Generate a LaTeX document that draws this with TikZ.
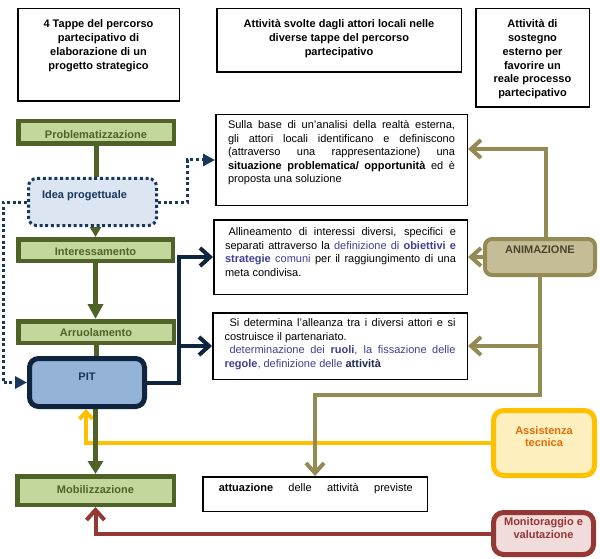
\documentclass[tikz,border=0pt]{standalone}
\usepackage{fontspec}
\setmainfont{Liberation Sans}
\usetikzlibrary{arrows.meta,backgrounds}
\definecolor{gfill}{HTML}{C3D69B}
\definecolor{gdark}{HTML}{4F6228}
\definecolor{ifill}{HTML}{DCE6F2}
\definecolor{navy}{HTML}{17375E}
\definecolor{navyd}{HTML}{0F243E}
\definecolor{pitfill}{HTML}{95B3D7}
\definecolor{anfill}{HTML}{C4BD97}
\definecolor{andark}{HTML}{948A54}
\definecolor{antext}{HTML}{4A452A}
\definecolor{asfill}{HTML}{FEF0BE}
\definecolor{asline}{HTML}{FFC000}
\definecolor{astext}{HTML}{E46C0A}
\definecolor{mofill}{HTML}{F2DCDB}
\definecolor{moline}{HTML}{953735}
\definecolor{purp}{HTML}{3F3F96}
\definecolor{purpd}{HTML}{1F2A50}
\newcommand\tbx[9]{%
  \node[#1,inner sep=0pt,minimum width={(#5-#3)*1pt},minimum height={(#6-#4)*1pt}] (#2) at ({(#3+#5)/2},{(#4+#6)/2})
  {\parbox[c][\dimexpr#6pt-#4pt\relax][t]{\dimexpr#5pt-#3pt-#7pt-#7pt\relax}{\vspace*{#8pt}#9}};}
\tikzset{
  chev/.tip={Straight Barb[length=10pt,width=18pt]},
  chevs/.tip={Straight Barb[length=7pt,width=13pt]},
  hdr/.style={draw=black,line width=1.5pt,font=\fontsize{11}{13.8}\selectfont\bfseries},
  txt/.style={draw=black,line width=1.5pt,fill=white,font=\fontsize{11}{13.4}\selectfont},
  gbox/.style={draw=gdark,fill=gfill,line width=4.5pt,text=gdark,font=\fontsize{11}{13.4}\selectfont\bfseries},
  ideabox/.style={draw=navy,fill=ifill,line width=3pt,dash pattern=on 3pt off 2.7pt,rounded corners=8pt,text=navy,font=\fontsize{11}{13.4}\selectfont\bfseries},
  pitbox/.style={draw=navyd,fill=pitfill,line width=5pt,rounded corners=9pt,text=navy,font=\fontsize{11}{13.4}\selectfont\bfseries},
  anbox/.style={draw=andark,fill=anfill,line width=4pt,rounded corners=7pt,text=antext,font=\fontsize{11}{13.4}\selectfont\bfseries},
  asbox/.style={draw=asline,fill=asfill,line width=5pt,rounded corners=10pt,text=astext,font=\fontsize{11}{12.3}\selectfont\bfseries},
  mobox/.style={draw=moline,fill=mofill,line width=5pt,rounded corners=10pt,text=moline,font=\fontsize{11}{12.3}\selectfont\bfseries},
  gline/.style={draw=gdark,line width=5pt},
  nline/.style={draw=navyd,line width=4pt},
  oline/.style={draw=andark,line width=4pt},
  yline/.style={draw=asline,line width=4pt},
  rline/.style={draw=moline,line width=4pt},
  dline/.style={draw=navy,line width=3pt,dash pattern=on 3pt off 2.7pt},
}
\begin{document}
\begin{tikzpicture}[x=1pt,y=-1pt]
\useasboundingbox (0,0) rectangle (600,559);
% headers
\tbx{hdr}{h1}{17.75}{8.75}{179.25}{101.25}{4}{9.25}{\centering\strut 4 Tappe del percorso\\ partecipativo di\\ elaborazione di un\\ progetto strategico}
\tbx{hdr}{h2}{216.75}{8.75}{461.25}{72.25}{4}{9.25}{\centering\strut Attività svolte dagli attori locali nelle\\ diverse tappe del percorso\\ partecipativo}
\tbx{hdr}{h3}{475.75}{8.75}{589.25}{107.25}{4}{9.25}{\centering\strut Attività di\\ sostegno\\ esterno per\\ favorire un\\ reale processo\\ partecipativo}
% left column
\tbx{gbox}{prob}{18.25}{121.25}{173.75}{143.75}{4}{8.25}{\centering\strut Problematizzazione}
\tbx{ideabox}{idea}{28.5}{178.5}{156.5}{225.5}{13.5}{11}{\raggedright\strut Idea progettuale}
\tbx{gbox}{inter}{18.25}{239.25}{172.75}{260.75}{4}{7.25}{\centering\strut Interessamento}
\tbx{gbox}{arr}{18.25}{321.25}{173.75}{342.75}{4}{6.25}{\centering\strut Arruolamento}
\tbx{pitbox}{pit}{29.5}{358.5}{144.5}{406.5}{4}{13}{\centering\strut PIT}
\tbx{gbox}{mob}{17.25}{476.25}{173.75}{504.75}{4}{8.25}{\centering\strut Mobilizzazione}
% middle column
\tbx{txt}{boxA}{215.75}{114.75}{467.25}{205.25}{12.25}{4.75}{\strut Sulla base di un'analisi della realtà esterna,\linebreak gli attori locali identificano e definiscono\linebreak (attraverso una rappresentazione) una\linebreak \textbf{situazione problematica/ opportunità} ed è\linebreak proposta una soluzione}
\tbx{txt}{boxB}{213.75}{219.75}{467.25}{294.25}{11.25}{6.75}{\strut\hspace*{3.5pt}Allineamento di interessi diversi, specifici e\linebreak separati attraverso la {\color{purp}definizione di \textbf{obiettivi e}}\linebreak {\color{purp}\textbf{strategie} comuni} per il raggiungimento di una\linebreak meta condivisa.}
\tbx{txt}{boxC}{212.75}{312.75}{467.25}{379.25}{11.75}{4.75}{\strut\hspace*{5pt}Si determina l'alleanza tra i diversi attori e si\linebreak costruisce il partenariato.\par\strut\hspace*{5pt}{\color{purp}determinazione dei \textbf{ruoli}, la fissazione delle}\linebreak {\color{purp}\textbf{regole}, definizione delle} {\color{purpd}\textbf{attività}}}
\tbx{txt}{boxD}{202.75}{476.75}{427.25}{511.25}{14}{5.75}{\noindent\strut\hspace*{2pt}\makebox[194pt][s]{\textbf{attuazione} delle attività previste}}
% right column
\tbx{anbox}{anim}{485}{239}{595}{275}{4}{5.5}{\centering\strut ANIMAZIONE}
\tbx{asbox}{assist}{493.5}{410.5}{594.5}{475.5}{4}{15.1}{\centering\strut Assistenza\\ tecnica}
\tbx{mobox}{monit}{493.5}{512.5}{593.5}{554.5}{4}{4.8}{\centering\strut Monitoraggio e\\ valutazione}
% connectors
\begin{pgfonlayer}{background}
\draw[yline,-{chevs}] (assist.west) -| ([xshift=-1pt]pit.south);
\draw[rline,-{chev}] (monit.west) -| (mob.south);
\draw[gline] (prob.south) -- (prob.south |- idea.north);
\draw[gline,-{Triangle[length=10pt,width=11pt]}] (idea.south -| inter.north) -- (inter.north);
\draw[gline,-{Triangle[length=15pt,width=15pt]}] (inter.south) -- (inter.south |- arr.north);
\draw[gline] (arr.south) -- (arr.south |- pit.north);
\draw[gline,-{Triangle[length=13pt,width=15pt]}] (pit.south -| mob.north) -- (mob.north);
\draw[nline,-{chev}] (pit.east) -- ++(32,0) |- (boxB.west);
\draw[nline,-{chev}] (pit.east) ++(32,0) |- (boxC.west);
\draw[oline,-{chev}] ([xshift=6pt]anim.north) |- ([yshift=11pt]boxA.east);
\draw[oline,-{chev}] (anim.center) -- (boxB.east);
\draw[oline,-{chev}] (anim.south) |- (boxC.east);
\draw[oline,-{chev}] (anim.south) -- ++(0,118) -| (boxD.north);
\draw[dline,-{Triangle[length=12pt,width=12pt]}] (idea.east) -- ++(29,0) |- (boxA.west);
\draw[dline,-{Triangle[length=12pt,width=12pt]}] (idea.west) -- ++(-24,0) |- (pit.west);
\end{pgfonlayer}
\end{tikzpicture}
\end{document}
